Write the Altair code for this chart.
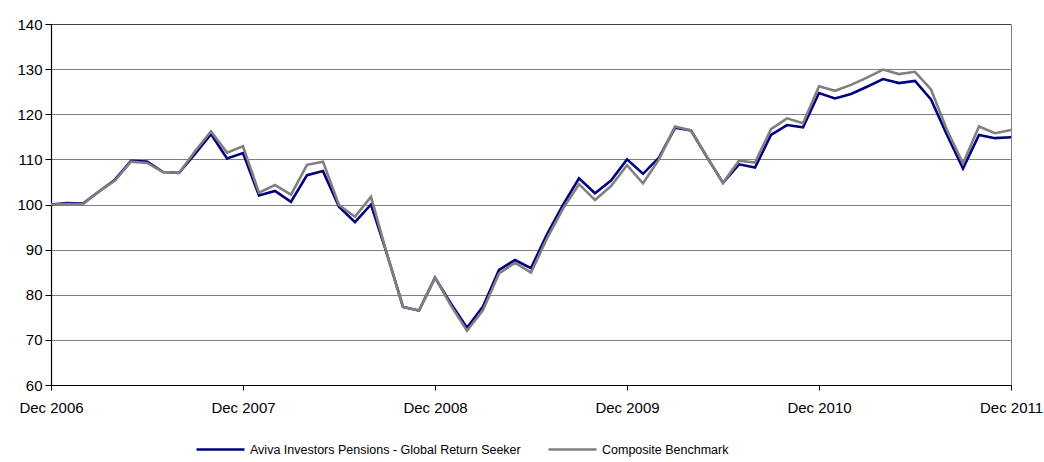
import altair as alt
import pandas as pd

series_names = ["Aviva Investors Pensions - Global Return Seeker", "Composite Benchmark"]
series_colors = ["#000080", "#808080"]

tick_labels = ["Dec 2006", "Dec 2007", "Dec 2008", "Dec 2009", "Dec 2010", "Dec 2011"]

# monthly values, Dec 2006 (index 0) to Dec 2011 (index 60)
fund = [100.0, 100.3, 100.2, 102.9, 105.5, 109.7, 109.5, 107.2, 107.0, 111.2,
        115.6, 110.2, 111.4, 102.0, 103.0, 100.6, 106.5, 107.4, 99.5, 96.1,
        100.0, 89.0, 77.3, 76.5, 83.8, 78.0, 72.7, 77.4, 85.5, 87.7,
        85.9, 93.4, 99.9, 105.8, 102.5, 105.3, 110.0, 106.8, 110.4, 117.0,
        116.4, 110.5, 104.8, 108.9, 108.2, 115.4, 117.6, 117.1, 124.7, 123.5,
        124.5, 126.1, 127.8, 126.9, 127.4, 123.3, 115.4, 108.0, 115.4, 114.7, 114.9]
bench = [100.0, 100.1, 100.1, 102.9, 105.3, 109.5, 109.2, 107.2, 107.0, 111.8,
         116.2, 111.5, 112.9, 102.6, 104.3, 102.2, 108.8, 109.5, 99.9, 97.3,
         101.7, 89.0, 77.3, 76.5, 83.8, 77.6, 72.0, 76.6, 84.7, 87.1,
         84.9, 92.5, 99.1, 104.5, 101.0, 104.1, 108.7, 104.7, 110.0, 117.3,
         116.4, 110.5, 104.8, 109.7, 109.3, 116.7, 119.1, 118.0, 126.2, 125.2,
         126.5, 128.1, 129.9, 128.9, 129.4, 125.5, 116.5, 109.1, 117.3, 115.8, 116.5]

rows = []
for name, vals in zip(series_names, [fund, bench]):
    for i, v in enumerate(vals):
        rows.append({"month": i, "value": v, "series": name})
df = pd.DataFrame(rows)

label_array = "[" + ",".join("'%s'" % t for t in tick_labels) + "]"

FONT = "Liberation Sans"

chart = alt.Chart(df).mark_line(strokeWidth=2.6, interpolate="linear").encode(
    x=alt.X("month:Q",
            scale=alt.Scale(domain=[0, 60], nice=False, zero=False),
            axis=alt.Axis(values=[0, 12, 24, 36, 48, 60], title=None, grid=False,
                          labelExpr=label_array + "[round(datum.value/12)]",
                          labelFlush=False, labelOverlap=False, labelBound=False,
                          tickSize=5, labelPadding=10)),
    y=alt.Y("value:Q",
            scale=alt.Scale(domain=[60, 140], nice=False, zero=False),
            axis=alt.Axis(values=list(range(60, 141, 10)), title=None, grid=True,
                          gridColor="#000000", gridDash=[1, 1], gridWidth=1, gridOpacity=1,
                          tickSize=6, labelPadding=3)),
    color=alt.Color("series:N",
                    scale=alt.Scale(domain=series_names, range=series_colors),
                    legend=alt.Legend(title=None, orient="none", direction="horizontal",
                                      legendX=144, legendY=400,
                                      symbolType="stroke", symbolSize=2304, symbolStrokeWidth=2.6,
                                      labelFont=FONT, labelFontSize=12.5, labelColor="#000000",
                                      labelLimit=0, columnPadding=22, labelOffset=4)),
).properties(
    width=960, height=361,
    autosize=alt.AutoSizeParams(type="none"),
    padding={"left": 51, "top": 24, "right": 33, "bottom": 77},
).configure_view(
    stroke="#808080", strokeWidth=1
).configure_axis(
    domainColor="#000000", tickColor="#000000", labelColor="#000000",
    labelFont=FONT, labelFontSize=15, domainWidth=1.2
)

chart.save("out.html", embed_options={"renderer": "svg", "actions": False})
